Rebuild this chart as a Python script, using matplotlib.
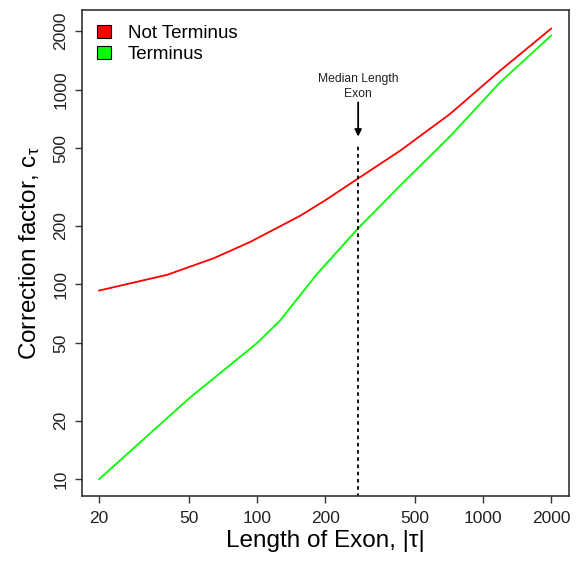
import numpy as np
import matplotlib.pyplot as plt
from matplotlib.patches import Patch
from matplotlib.ticker import FixedLocator, NullLocator

plt.rcParams['font.family'] = ['Liberation Sans', 'DejaVu Sans']
plt.rcParams['mathtext.fontset'] = 'custom'
plt.rcParams['mathtext.rm'] = 'Liberation Sans'
plt.rcParams['mathtext.it'] = 'Liberation Sans'

# values (log-log axes)
not_term_len = [20, 40, 64, 93, 155, 200, 280, 430, 714, 1188, 2000]
not_term_cf = [93, 112, 136, 165, 225, 270, 350, 486, 750, 1250, 2056]
term_len = [20, 50, 100, 126, 184, 280, 430, 714, 1188, 2000]
term_cf = [10, 26, 50, 65, 113, 194, 322, 575, 1089, 1893]
median_len = 280
median_top = 516

x_ticks = [20, 50, 100, 200, 500, 1000, 2000]
y_ticks = [10, 20, 50, 100, 200, 500, 1000, 2000]

fig = plt.figure(figsize=(5.83, 5.61), dpi=100)
ax = fig.add_axes([0.1407, 0.1159, 0.8353, 0.8661])

ax.plot(not_term_len, not_term_cf, color='#FF0000', lw=1.3)
ax.plot(term_len, term_cf, color='#00FF00', lw=1.3)
ax.plot([median_len, median_len], [1, median_top], color='black', lw=1.3, ls=(0, (2, 2)))

ax.annotate('', xy=(median_len, 574), xytext=(median_len, 860),
            arrowprops=dict(arrowstyle='-|>', color='black', lw=1.3,
                            mutation_scale=10, shrinkA=0, shrinkB=0))
ax.text(median_len, 1040, 'Median Length\nExon', ha='center', va='center',
        fontsize=8.7, linespacing=1.3, color='#222222')

ax.set_xscale('log')
ax.set_yscale('log')
ax.set_xlim(16.8, 2400)
ax.set_ylim(8.2, 2560)

ax.xaxis.set_major_locator(FixedLocator(x_ticks))
ax.xaxis.set_minor_locator(NullLocator())
ax.yaxis.set_major_locator(FixedLocator(y_ticks))
ax.yaxis.set_minor_locator(NullLocator())
ax.set_xticklabels([str(v) for v in x_ticks])
ax.set_yticklabels([str(v) for v in y_ticks], rotation=90, va='center')
ax.tick_params(length=5, width=1, labelsize=12.5, color='#333333', labelcolor='#222222')
ax.tick_params(axis='x', pad=6)
ax.tick_params(axis='y', pad=5)

for s in ax.spines.values():
    s.set_linewidth(1.2)
    s.set_color('#333333')

ax.set_xlabel('Length of Exon, |τ|', fontsize=17.5, labelpad=3)
ax.set_ylabel(r'Correction factor, c$_\tau$', fontsize=17.5, labelpad=8)

handles = [Patch(facecolor='#FF0000', edgecolor='black', lw=0.8),
           Patch(facecolor='#00FF00', edgecolor='black', lw=0.8)]
ax.legend(handles, ['Not Terminus', 'Terminus'], loc='upper left', frameon=False,
          fontsize=13.5, handlelength=0.75, handleheight=0.7, handletextpad=0.9,
          labelspacing=0.2, borderaxespad=0.4)

fig.savefig('out.png', dpi=100)
